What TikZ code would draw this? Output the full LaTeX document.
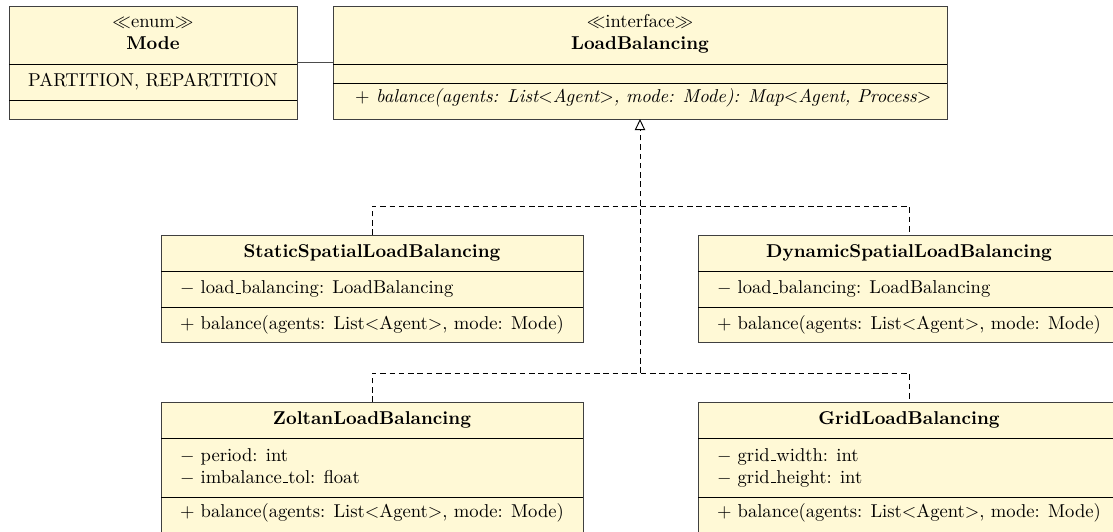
\documentclass[tikz,border=0pt]{standalone}
\usetikzlibrary{arrows.meta,fit}
\definecolor{classfill}{RGB}{255,249,214}
\newcommand\ulin{\leavevmode\kern.06em\vbox{\hrule width.3em}}
\tikzset{
  cls/.style={draw=black!75, fill=classfill, line width=0.5pt, inner sep=0pt, outer sep=0pt, rectangle},
  div/.style={draw=black, line width=0.5pt},
  txt/.style={inner sep=0pt, outer sep=0pt, font=\fontsize{10}{12}\selectfont},
  realize/.style={draw=black, line width=0.5pt, dash pattern=on 3pt off 2pt},
  assoc/.style={draw=black!70, line width=0.5pt},
}
\begin{document}
\begin{tikzpicture}[x=0.5376pt, y=-0.5376pt]
\useasboundingbox (0,0) rectangle (1113,532);

% ---- Mode (enum)
\node[cls, fit={(9,6) (297,119)}] (mode) {};
\draw[div] (9,64) -- (297,64);
\draw[div] (9,100) -- (297,100);
\node[txt, anchor=base] (modest) at (153,28) {$\ll$enum$\gg$};
\node[txt, anchor=base] (modenm) at (153,50) {\textbf{Mode}};
\node[txt, anchor=base] (modev) at (153,87) {PARTITION, REPARTITION};

% ---- LoadBalancing (interface)
\node[cls, fit={(333,6) (947,119)}] (lb) {};
\draw[div] (333,64) -- (947,64);
\draw[div] (333,83) -- (947,83);
\node[txt, anchor=base] (lbst) at (640,28) {$\ll$interface$\gg$};
\node[txt, anchor=base] (lbnm) at (640,50) {\textbf{LoadBalancing}};
\node[txt, anchor=base west] (lbop) at (355,103) {\textit{$+$ balance(agents: List$<$Agent$>$, mode: Mode): Map$<$Agent, Process$>$}};

% ---- StaticSpatialLoadBalancing
\node[cls, fit={(161,235) (583,342)}] (st) {};
\draw[div] (161,271) -- (583,271);
\draw[div] (161,307) -- (583,307);
\node[txt, anchor=base] (stnm) at (372,258) {\textbf{StaticSpatialLoadBalancing}};
\node[txt, anchor=base west] (sta) at (180,294) {$-$ load\ulin balancing: LoadBalancing};
\node[txt, anchor=base west] (sto) at (180,330) {$+$ balance(agents: List$<$Agent$>$, mode: Mode)};

% ---- DynamicSpatialLoadBalancing
\node[cls, fit={(698,235) (1120,342)}] (dy) {};
\draw[div] (698,271) -- (1120,271);
\draw[div] (698,307) -- (1120,307);
\node[txt, anchor=base] (dynm) at (909,258) {\textbf{DynamicSpatialLoadBalancing}};
\node[txt, anchor=base west] (dya) at (717,294) {$-$ load\ulin balancing: LoadBalancing};
\node[txt, anchor=base west] (dyo) at (717,330) {$+$ balance(agents: List$<$Agent$>$, mode: Mode)};

% ---- ZoltanLoadBalancing
\node[cls, fit={(161,402) (583,533)}] (zo) {};
\draw[div] (161,438) -- (583,438);
\draw[div] (161,497) -- (583,497);
\node[txt, anchor=base] (zonm) at (372,424) {\textbf{ZoltanLoadBalancing}};
\node[txt, anchor=base west] (zoa) at (180,461) {$-$ period: int};
\node[txt, anchor=base west] (zob) at (180,483) {$-$ imbalance\ulin tol: float};
\node[txt, anchor=base west] (zoo) at (180,517) {$+$ balance(agents: List$<$Agent$>$, mode: Mode)};

% ---- GridLoadBalancing
\node[cls, fit={(698,402) (1120,533)}] (gr) {};
\draw[div] (698,438) -- (1120,438);
\draw[div] (698,497) -- (1120,497);
\node[txt, anchor=base] (grnm) at (909,424) {\textbf{GridLoadBalancing}};
\node[txt, anchor=base west] (gra) at (717,461) {$-$ grid\ulin width: int};
\node[txt, anchor=base west] (grb) at (717,483) {$-$ grid\ulin height: int};
\node[txt, anchor=base west] (gro) at (717,517) {$+$ balance(agents: List$<$Agent$>$, mode: Mode)};

% ---- connectors
\draw[assoc] (mode.east |- 0,62) -- (lb.west |- 0,62);

\coordinate (j1) at (640,206);
\coordinate (j2) at (640,373);
\draw[realize, -{Triangle[open, length=6pt, width=5.6pt, line width=0.5pt]}] (j2) -- (lb.south);
\draw[realize] (st.north) |- (j1) -| (dy.north);
\draw[realize] (zo.north) |- (j2) -| (gr.north);
\end{tikzpicture}
\end{document}
